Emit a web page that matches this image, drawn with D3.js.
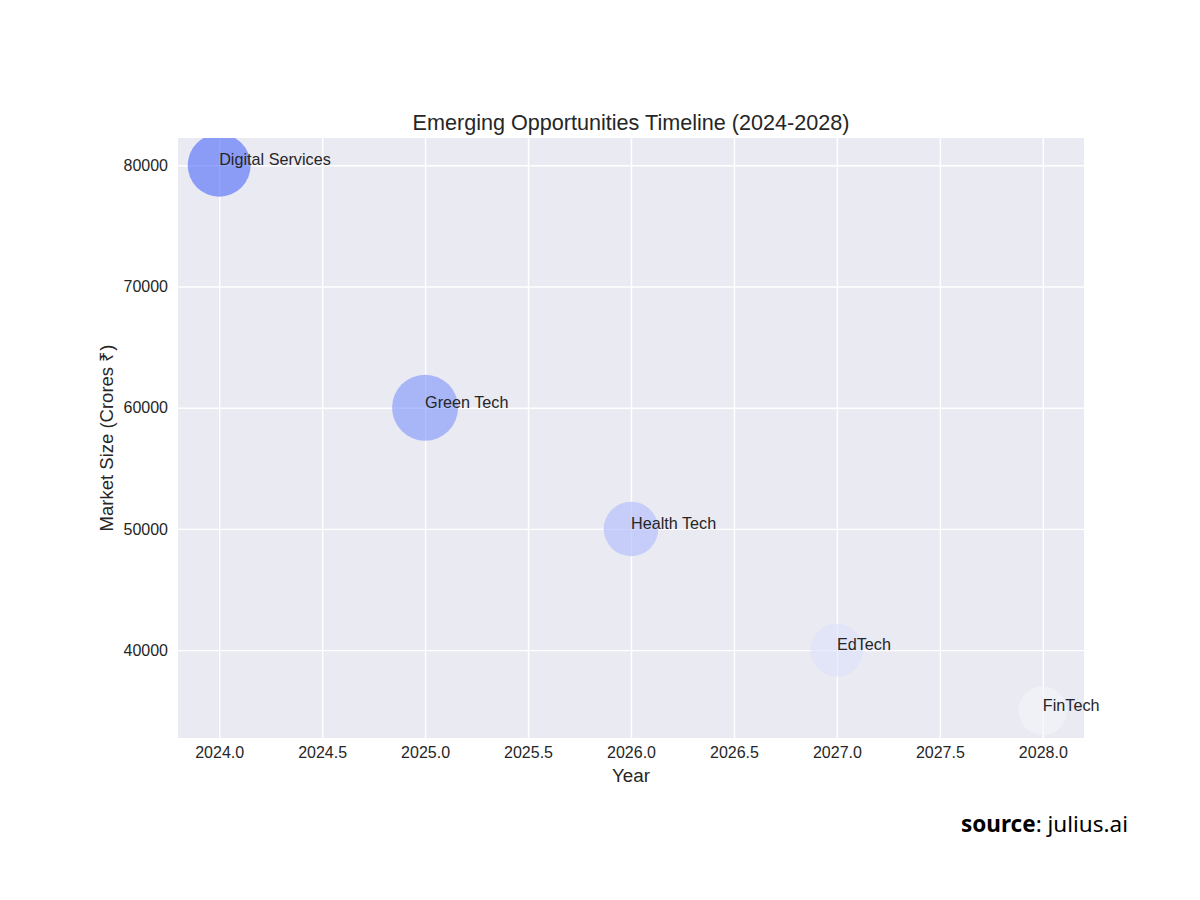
<!DOCTYPE html>
<html>
<head>
<meta charset="utf-8">
<script src="https://cdn.jsdelivr.net/npm/d3@7"></script>
<style>
  html, body { margin: 0; padding: 0; background: #ffffff; }
  svg { display: block; }
</style>
</head>
<body>
<svg id="chart" width="1200" height="900"></svg>
<script>
// ---- data ----
const sectors = ["Digital Services", "Green Tech", "Health Tech", "EdTech", "FinTech"];
const years = [2024, 2025, 2026, 2027, 2028];
const marketSize = [80000, 60000, 50000, 40000, 35000];
const growthRate = [20, 22, 15, 14, 12];
const xTicks = [2024.0, 2024.5, 2025.0, 2025.5, 2026.0, 2026.5, 2027.0, 2027.5, 2028.0];
const yTicks = [40000, 50000, 60000, 70000, 80000];

const data = sectors.map((s, i) => ({ sector: s, year: years[i], market: marketSize[i], growth: growthRate[i] }));

// ---- layout ----
const svg = d3.select("#chart");
const margin = { left: 178, right: 1084, top: 138, bottom: 738 };
const font = "'Liberation Sans', Arial, sans-serif";
const textColor = "#262626";

const x = d3.scaleLinear().domain([2023.8, 2028.2]).range([margin.left, margin.right]);
const y = d3.scaleLinear().domain([32750, 82250]).range([margin.bottom, margin.top]);
const r = d3.scaleSqrt().domain([0, d3.max(growthRate)]).range([0, 33]);
const color = d3.scaleLinear()
  .domain([d3.min(marketSize), 60000, d3.max(marketSize)])
  .range(["#f4f4fa", "#7c92fc", "#4a68f9"]);

// background
svg.append("rect")
  .attr("x", margin.left).attr("y", margin.top)
  .attr("width", margin.right - margin.left)
  .attr("height", margin.bottom - margin.top)
  .attr("fill", "#eaeaf2");

svg.append("clipPath").attr("id", "plotclip")
  .append("rect")
  .attr("x", margin.left).attr("y", margin.top)
  .attr("width", margin.right - margin.left)
  .attr("height", margin.bottom - margin.top);

// grid
const xAxis = d3.axisBottom(x).tickValues(xTicks).tickFormat(d3.format(".1f"))
  .tickSize(-(margin.bottom - margin.top)).tickPadding(9);
const gx = svg.append("g").attr("transform", `translate(0,${margin.bottom})`).call(xAxis);
gx.select(".domain").remove();
gx.selectAll(".tick line").attr("stroke", "#ffffff").attr("stroke-width", 1.4);
gx.selectAll(".tick text").attr("font-family", font).attr("font-size", 16).attr("fill", textColor);

const yAxis = d3.axisLeft(y).tickValues(yTicks).tickFormat(d3.format("d"))
  .tickSize(-(margin.right - margin.left)).tickPadding(10);
const gy = svg.append("g").attr("transform", `translate(${margin.left},0)`).call(yAxis);
gy.select(".domain").remove();
gy.selectAll(".tick line").attr("stroke", "#ffffff").attr("stroke-width", 1.4);
gy.selectAll(".tick text").attr("font-family", font).attr("font-size", 16).attr("fill", textColor);

// bubbles
svg.append("g").attr("clip-path", "url(#plotclip)")
  .selectAll("circle").data(data).join("circle")
  .attr("cx", d => x(d.year))
  .attr("cy", d => y(d.market))
  .attr("r", d => r(d.growth))
  .attr("fill", d => color(d.market))
  .attr("fill-opacity", 0.6);

// labels
svg.append("g").selectAll("text").data(data).join("text")
  .attr("x", d => x(d.year))
  .attr("y", d => y(d.market))
  .attr("font-family", font).attr("font-size", 16.2).attr("fill", textColor)
  .text(d => d.sector);

// title
svg.append("text")
  .attr("x", (margin.left + margin.right) / 2).attr("y", 130)
  .attr("text-anchor", "middle")
  .attr("font-family", font).attr("font-size", 21.6).attr("fill", textColor)
  .text("Emerging Opportunities Timeline (2024-2028)");

// axis labels
svg.append("text")
  .attr("x", (margin.left + margin.right) / 2).attr("y", 782)
  .attr("text-anchor", "middle")
  .attr("font-family", font).attr("font-size", 18.8).attr("fill", textColor)
  .text("Year");

svg.append("text")
  .attr("transform", `translate(113,${(margin.top + margin.bottom) / 2}) rotate(-90)`)
  .attr("text-anchor", "middle")
  .attr("font-family", font).attr("font-size", 18.5).attr("fill", textColor)
  .text("Market Size (Crores ₹)");

// source
const src = svg.append("text")
  .attr("x", 1128).attr("y", 832)
  .attr("text-anchor", "end")
  .attr("font-family", "'Noto Sans', 'Open Sans', sans-serif").attr("font-size", 22.5).attr("fill", "#000000");
src.append("tspan").attr("font-weight", "bold").text("source");
src.append("tspan").text(": julius.ai");
</script>
</body>
</html>
